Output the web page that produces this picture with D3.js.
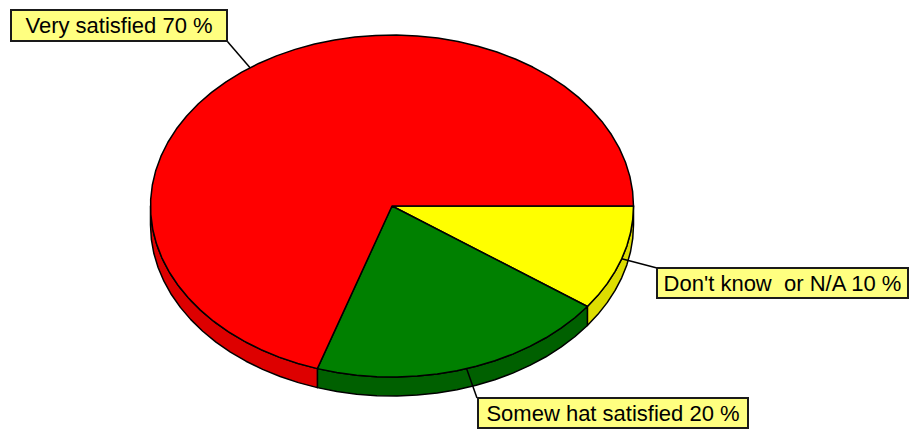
<!DOCTYPE html>
<html>
<head>
<meta charset="utf-8">
<script src="https://cdn.jsdelivr.net/npm/d3@7"></script>
<style>
  html, body { margin: 0; padding: 0; background: #fff; }
  svg { display: block; }
  text { font-family: Arial, "Liberation Sans", sans-serif; white-space: pre; }
</style>
</head>
<body>
<svg id="chart" width="910" height="429"></svg>
<script>
// Survey answers, drawn clockwise from 3 o'clock
const categories = ["Don't know or N/A", "Somewhat satisfied", "Very satisfied"];
const values = [10, 20, 70];
const labels = ["Don't know  or N/A 10 %", "Somew hat satisfied 20 %", "Very satisfied 70 %"];
const topColors = ["#FFFF00", "#008000", "#FF0000"];
const sideColors = ["#DDDD00", "#006000", "#DD0000"];

// Ellipse geometry of the tilted pie
const cx = 392, cy = 206, rx = 241.5, ry = 171, depth = 19;

// Label boxes (x, y, w, h) placed around the pie
const boxes = [
  { x: 657, y: 268, w: 251, h: 30, cornerX: 657, cornerY: 268 },
  { x: 478, y: 398, w: 270, h: 30, cornerX: 477, cornerY: 398 },
  { x: 11,  y: 10,  w: 216, h: 31, cornerX: 227, cornerY: 41 }
];

const svg = d3.select("#chart");

const pie = d3.pie().sort(null)
  .startAngle(Math.PI / 2)
  .endAngle(Math.PI / 2 + 2 * Math.PI);
const arcs = pie(values);

const pt = (a, dy = 0) => [cx + rx * Math.sin(a), cy - ry * Math.cos(a) + dy];

// Sample angles along an arc; 5 degree facets
function arcAngles(a0, a1) {
  const step = Math.PI / 36;
  const n = Math.max(1, Math.ceil((a1 - a0) / step));
  return d3.range(n + 1).map(i => a0 + (a1 - a0) * i / n);
}

const line = d3.line();

// Side walls: only the front half (3 o'clock through 6 to 9 o'clock) is visible
const frontStart = Math.PI / 2, frontEnd = 3 * Math.PI / 2;
const walls = svg.append("g");
arcs.forEach((d, i) => {
  const a0 = Math.max(d.startAngle, frontStart);
  const a1 = Math.min(d.endAngle, frontEnd);
  if (a1 <= a0) return;
  const angs = arcAngles(a0, a1);
  const topPts = angs.map(a => pt(a));
  const botPts = angs.slice().reverse().map(a => pt(a, depth));
  walls.append("path")
    .attr("d", line(topPts.concat(botPts)) + "Z")
    .attr("fill", sideColors[i])
    .attr("stroke", "#000")
    .attr("stroke-width", 1.5)
    .attr("stroke-linejoin", "round");
});

// Top faces
const faces = svg.append("g");
arcs.forEach((d, i) => {
  const angs = arcAngles(d.startAngle, d.endAngle);
  const pts = [[cx, cy]].concat(angs.map(a => pt(a)));
  faces.append("path")
    .attr("d", line(pts) + "Z")
    .attr("fill", topColors[i])
    .attr("stroke", "#000")
    .attr("stroke-width", 1.5)
    .attr("stroke-linejoin", "round");
});

// Leader lines and label boxes
const labelsG = svg.append("g");
arcs.forEach((d, i) => {
  const mid = (d.startAngle + d.endAngle) / 2;
  const [ax, ay] = pt(mid);
  const b = boxes[i];
  labelsG.append("line")
    .attr("x1", ax).attr("y1", ay)
    .attr("x2", b.cornerX).attr("y2", b.cornerY)
    .attr("stroke", "#000").attr("stroke-width", 1.5);
  labelsG.append("rect")
    .attr("x", b.x).attr("y", b.y)
    .attr("width", b.w).attr("height", b.h)
    .attr("fill", "#FFFF80")
    .attr("stroke", "#1a1a1a")
    .attr("stroke-width", 2);
  labelsG.append("text")
    .attr("x", b.x + b.w / 2)
    .attr("y", b.y + b.h / 2 + 7.5)
    .attr("text-anchor", "middle")
    .attr("font-size", 22)
    .attr("fill", "#000")
    .text(labels[i]);
});
</script>
</body>
</html>
